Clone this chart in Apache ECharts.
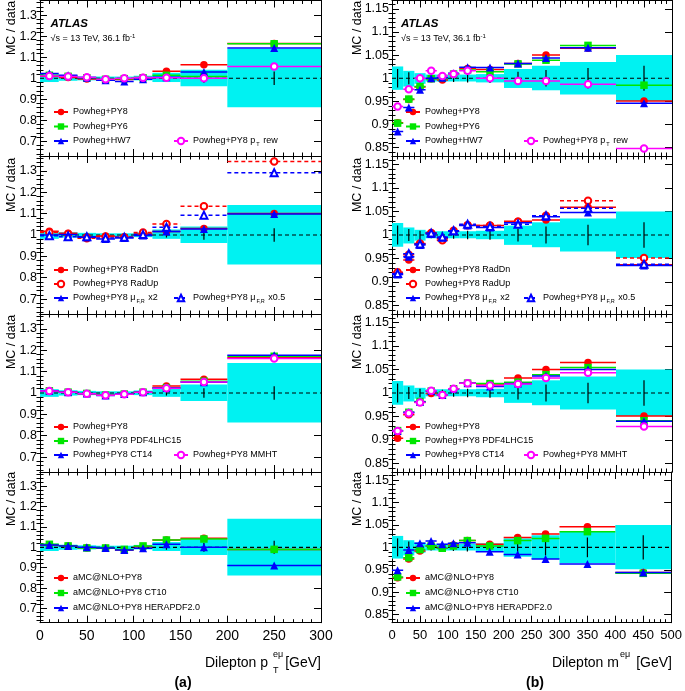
<!DOCTYPE html>
<html><head><meta charset="utf-8">
<script src="https://cdn.jsdelivr.net/npm/echarts@6/dist/echarts.min.js"></script>
<style>html,body{margin:0;padding:0;background:#fff}#c{width:685px;height:691px}</style>
</head><body><div id="c"></div>
<script>
// ---------------- data ----------------
const binsPt = [0, 20, 40, 60, 80, 100, 120, 150, 200, 300];
const centersPt = [10, 30, 50, 70, 90, 110, 135, 175, 250];
const binsM = [0, 20, 40, 60, 80, 100, 120, 150, 200, 250, 300, 400, 500];
const centersM = [10, 30, 50, 70, 90, 110, 135, 175, 225, 275, 350, 450];

// data uncertainty band (upper / lower edge) and data stat error
const ptBandHi = [1.018, 1.013, 1.010, 1.008, 1.008, 1.012, 1.026, 1.040, 1.140];
const ptBandLo = [0.982, 0.988, 0.990, 0.992, 0.992, 0.990, 0.982, 0.962, 0.862];
const ptDataErr = [0.008, 0.006, 0.005, 0.005, 0.005, 0.006, 0.012, 0.022, 0.032];
const mBandHi = [1.0255, 1.016, 1.011, 1.008, 1.008, 1.008, 1.008, 1.009, 1.020, 1.027, 1.035, 1.050];
const mBandLo = [0.975, 0.982, 0.988, 0.993, 0.993, 0.993, 0.993, 0.991, 0.979, 0.974, 0.965, 0.951];
const mDataErr = [0.020, 0.013, 0.009, 0.007, 0.007, 0.008, 0.009, 0.010, 0.014, 0.018, 0.022, 0.027];

// dilepton pT ratios
const pt_PY8 = [1.010, 1.004, 0.996, 0.990, 0.994, 1.004, 1.033, 1.064, 1.165];
const pt_PY6 = [1.014, 1.009, 1.002, 0.995, 0.998, 1.002, 1.014, 1.008, 1.164];
const pt_HW7 = [1.023, 1.014, 1.002, 0.990, 0.984, 0.995, 1.005, 1.030, 1.144];
const pt_PY8ptrew = [1.011, 1.008, 1.005, 0.995, 1.000, 1.002, 1.002, 1.000, 1.056];
const pt_RadDn = [1.017, 1.008, 0.992, 0.995, 0.989, 1.005, 1.016, 1.031, 1.101];
const pt_RadUp = [1.012, 1.005, 0.985, 0.992, 0.989, 1.012, 1.051, 1.135, 1.344];
const pt_muX2 = [1.000, 1.002, 0.989, 0.981, 0.986, 0.998, 1.016, 1.028, 1.098];
const pt_muX05 = [0.997, 0.992, 0.992, 0.986, 0.989, 1.002, 1.036, 1.093, 1.292];
const pt_PDF4LHC = [1.010, 1.004, 0.998, 0.990, 0.995, 1.004, 1.025, 1.055, 1.172];
const pt_CT14 = [1.010, 1.004, 0.998, 0.988, 0.995, 1.004, 1.024, 1.050, 1.177];
const pt_MMHT = [1.009, 1.004, 0.997, 0.989, 0.994, 1.003, 1.022, 1.052, 1.162];
const pt_aMC = [1.011, 1.007, 0.998, 0.995, 0.987, 1.003, 1.036, 1.045, 0.990];
const pt_aMC_CT10 = [1.015, 1.007, 0.997, 0.997, 0.990, 1.007, 1.036, 1.041, 0.990];
const pt_aMC_HERA = [1.011, 1.007, 1.000, 0.997, 0.987, 0.995, 1.015, 1.000, 0.911];

// dilepton mass ratios
const m_PY8 = [0.904, 0.954, 0.981, 0.999, 0.996, 1.009, 1.021, 1.019, 1.032, 1.050, 1.065, 0.951];
const m_PY6 = [0.903, 0.955, 0.982, 0.999, 1.001, 1.009, 1.018, 1.014, 1.031, 1.039, 1.071, 0.985];
const m_HW7 = [0.885, 0.937, 0.975, 1.000, 1.001, 1.011, 1.024, 1.023, 1.032, 1.044, 1.066, 0.946];
const m_PY8ptrew = [0.939, 0.976, 1.000, 1.016, 1.005, 1.009, 1.016, 1.000, 0.994, 0.994, 0.987, 0.848];
const m_RadDn = [0.918, 0.947, 0.981, 1.004, 0.992, 1.008, 1.021, 1.020, 1.029, 1.032, 1.059, 0.937];
const m_RadUp = [0.921, 0.958, 0.982, 1.004, 0.989, 1.009, 1.021, 1.020, 1.028, 1.041, 1.073, 0.951];
const m_muX2 = [0.916, 0.954, 0.979, 1.002, 0.994, 1.008, 1.020, 1.016, 1.026, 1.039, 1.048, 0.935];
const m_muX05 = [0.918, 0.960, 0.981, 1.004, 0.996, 1.009, 1.023, 1.018, 1.023, 1.041, 1.057, 0.938];
const m_PDF4LHC = [0.920, 0.959, 0.982, 1.004, 0.996, 1.009, 1.021, 1.020, 1.023, 1.039, 1.054, 0.941];
const m_CT14 = [0.919, 0.959, 0.981, 1.004, 0.996, 1.009, 1.021, 1.014, 1.020, 1.036, 1.050, 0.940];
const m_MMHT = [0.919, 0.957, 0.980, 1.005, 0.996, 1.009, 1.021, 1.016, 1.019, 1.032, 1.043, 0.929];
const m_aMC = [0.932, 0.974, 0.992, 1.003, 0.998, 1.005, 1.015, 1.007, 1.022, 1.030, 1.046, 0.944];
const m_aMC_CT10 = [0.934, 0.977, 0.995, 1.003, 0.998, 1.003, 1.015, 1.003, 1.015, 1.020, 1.035, 0.942];
const m_aMC_HERA = [0.949, 0.994, 1.009, 1.014, 1.007, 1.009, 1.010, 0.990, 0.984, 0.974, 0.963, 0.944];

// tick labels
const ptYTicks = [0.7, 0.8, 0.9, 1, 1.1, 1.2, 1.3];
const mYTicks = [0.85, 0.9, 0.95, 1, 1.05, 1.1, 1.15];

// ---------------- styling ----------------
const FONT = "'Liberation Sans', Arial, Helvetica, sans-serif";
const RED = '#ff0000', GREEN = '#00e600', BLUE = '#0000ff', MAG = '#ff00ff', CYAN = '#00f2f2';

function minorTicks(min, max, step, majors) {
  const out = [];
  const n0 = Math.ceil(min / step - 1e-9), n1 = Math.floor(max / step + 1e-9);
  for (let k = n0; k <= n1; k++) {
    const v = Math.round(k * step * 10000) / 10000;
    if (!majors.some(m => Math.abs(m - v) < 1e-6)) out.push(v);
  }
  return out;
}

const cols = [
  { left: 40, width: 281, bins: binsPt, centers: centersPt, xmax: 300, ymin: 0.63, ymax: 1.37,
    majors: ptYTicks, minors: minorTicks(0.63, 1.37, 0.02, ptYTicks),
    bandHi: ptBandHi, bandLo: ptBandLo, err: ptDataErr, xLabelSize: 14,
    series: [
      [ { n: 'Powheg+PY8', d: pt_PY8, c: RED, s: 'circle' },
        { n: 'Powheg+PY6', d: pt_PY6, c: GREEN, s: 'rect' },
        { n: 'Powheg+HW7', d: pt_HW7, c: BLUE, s: 'triangle' },
        { n: 'Powheg+PY8 p_T rew', d: pt_PY8ptrew, c: MAG, s: 'emptyCircle' } ],
      [ { n: 'Powheg+PY8 RadDn', d: pt_RadDn, c: RED, s: 'circle' },
        { n: 'Powheg+PY8 RadUp', d: pt_RadUp, c: RED, s: 'emptyCircle', dash: true },
        { n: 'Powheg+PY8 mu x2', d: pt_muX2, c: BLUE, s: 'triangle' },
        { n: 'Powheg+PY8 mu x0.5', d: pt_muX05, c: BLUE, s: 'emptyTriangle', dash: true } ],
      [ { n: 'Powheg+PY8', d: pt_PY8, c: RED, s: 'circle' },
        { n: 'Powheg+PY8 PDF4LHC15', d: pt_PDF4LHC, c: GREEN, s: 'rect' },
        { n: 'Powheg+PY8 CT14', d: pt_CT14, c: BLUE, s: 'triangle' },
        { n: 'Powheg+PY8 MMHT', d: pt_MMHT, c: MAG, s: 'emptyCircle' } ],
      [ { n: 'aMC@NLO+PY8', d: pt_aMC, c: RED, s: 'circle' },
        { n: 'aMC@NLO+PY8 CT10', d: pt_aMC_CT10, c: GREEN, s: 'rect' },
        { n: 'aMC@NLO+PY8 HERAPDF2.0', d: pt_aMC_HERA, c: BLUE, s: 'triangle' } ]
    ] },
  { left: 392, width: 280, bins: binsM, centers: centersM, xmax: 500, ymin: 0.832, ymax: 1.168,
    majors: mYTicks, minors: minorTicks(0.832, 1.168, 0.01, mYTicks),
    bandHi: mBandHi, bandLo: mBandLo, err: mDataErr, xLabelSize: 13,
    series: [
      [ { n: 'Powheg+PY8', d: m_PY8, c: RED, s: 'circle' },
        { n: 'Powheg+PY6', d: m_PY6, c: GREEN, s: 'rect' },
        { n: 'Powheg+HW7', d: m_HW7, c: BLUE, s: 'triangle' },
        { n: 'Powheg+PY8 p_T rew', d: m_PY8ptrew, c: MAG, s: 'emptyCircle' } ],
      [ { n: 'Powheg+PY8 RadDn', d: m_RadDn, c: RED, s: 'circle' },
        { n: 'Powheg+PY8 RadUp', d: m_RadUp, c: RED, s: 'emptyCircle', dash: true },
        { n: 'Powheg+PY8 mu x2', d: m_muX2, c: BLUE, s: 'triangle' },
        { n: 'Powheg+PY8 mu x0.5', d: m_muX05, c: BLUE, s: 'emptyTriangle', dash: true } ],
      [ { n: 'Powheg+PY8', d: m_PY8, c: RED, s: 'circle' },
        { n: 'Powheg+PY8 PDF4LHC15', d: m_PDF4LHC, c: GREEN, s: 'rect' },
        { n: 'Powheg+PY8 CT14', d: m_CT14, c: BLUE, s: 'triangle' },
        { n: 'Powheg+PY8 MMHT', d: m_MMHT, c: MAG, s: 'emptyCircle' } ],
      [ { n: 'aMC@NLO+PY8', d: m_aMC, c: RED, s: 'circle' },
        { n: 'aMC@NLO+PY8 CT10', d: m_aMC_CT10, c: GREEN, s: 'rect' },
        { n: 'aMC@NLO+PY8 HERAPDF2.0', d: m_aMC_HERA, c: BLUE, s: 'triangle' } ]
    ] }
];

const rowTop = [0.5, 156, 314, 472];
const rowH = [155.5, 158, 158, 150.7];
const legRows = [[112, 126.5, 141], [270, 284, 298], [427, 441, 455], [578, 593, 608]];

const grid = [], xAxis = [], yAxis = [], series = [], legend = [];

function segData(bins, centers, vals) {
  const d = [];
  for (let i = 0; i < vals.length; i++) {
    d.push({ value: [bins[i], vals[i]], symbol: 'none' });
    d.push({ value: [centers[i], vals[i]] });
    d.push({ value: [bins[i + 1], vals[i]], symbol: 'none' });
    d.push([bins[i + 1], '-']);
  }
  return d;
}

function symSize(s) {
  if (s === 'emptyCircle') return 6.5;
  if (s === 'emptyTriangle') return 7;
  if (s === 'triangle') return 8;
  return 7.5;
}

const legendName = {
  'Powheg+PY8 p_T rew': '{a|Powheg+PY8 p}{s|T}{a| rew}',
  'Powheg+PY8 mu x2': '{a|Powheg+PY8 μ}{s|F,R}{a| x2}',
  'Powheg+PY8 mu x0.5': '{a|Powheg+PY8 μ}{s|F,R}{a| x0.5}'
};

cols.forEach((col, ci) => {
  for (let r = 0; r < 4; r++) {
    const g = ci * 4 + r;
    grid.push({ left: col.left, top: rowTop[r], width: col.width, height: rowH[r], containLabel: false });
    const xBase = {
      gridIndex: g, type: 'value', min: 0, max: col.xmax, interval: 50,
      axisLine: { show: true, onZero: false, lineStyle: { color: '#000', width: 1 } },
      axisTick: { show: true, inside: true, length: 7, lineStyle: { color: '#000', width: 1 } },
      minorTick: { show: true, splitNumber: 5, length: 3.5, lineStyle: { color: '#000', width: 1 } },
      splitLine: { show: false }, minorSplitLine: { show: false }
    };
    xAxis.push(Object.assign({}, xBase, { position: 'bottom',
      axisLabel: { show: r === 3, color: '#000', fontSize: col.xLabelSize, fontFamily: FONT, margin: 6,
        showMinLabel: true, showMaxLabel: true } }));
    xAxis.push(Object.assign({}, xBase, { position: 'top', axisLabel: { show: false } }));
    const yBase = { gridIndex: g, type: 'value', min: col.ymin, max: col.ymax,
      splitLine: { show: false } };
    yAxis.push(Object.assign({}, yBase, { position: 'left',
      axisLine: { show: true, onZero: false, lineStyle: { color: '#000', width: 1 } },
      axisTick: { show: true, inside: true, length: 7, customValues: col.majors, lineStyle: { color: '#000' } },
      axisLabel: { show: true, customValues: col.majors, color: '#000', fontSize: 12.5, fontFamily: FONT, margin: 3 } }));
    yAxis.push(Object.assign({}, yBase, { position: 'left', axisLine: { show: false },
      axisTick: { show: true, inside: true, length: 3.5, customValues: col.minors, lineStyle: { color: '#000' } },
      axisLabel: { show: false } }));
    yAxis.push(Object.assign({}, yBase, { position: 'right',
      axisLine: { show: true, onZero: false, lineStyle: { color: '#000', width: 1 } },
      axisTick: { show: true, inside: true, length: 7, customValues: col.majors, lineStyle: { color: '#000' } },
      axisLabel: { show: false } }));
    yAxis.push(Object.assign({}, yBase, { position: 'right', axisLine: { show: false },
      axisTick: { show: true, inside: true, length: 3.5, customValues: col.minors, lineStyle: { color: '#000' } },
      axisLabel: { show: false } }));

    const xi = 2 * g, yi = 4 * g;
    // data uncertainty band
    series.push({
      type: 'custom', xAxisIndex: xi, yAxisIndex: yi, silent: true, z: 1,
      encode: { x: [0, 1], y: [2, 3] },
      data: col.bandHi.map((h, i) => [col.bins[i], col.bins[i + 1], col.bandLo[i], h]),
      renderItem: (params, api) => {
        const p0 = api.coord([api.value(0), api.value(3)]);
        const p1 = api.coord([api.value(1), api.value(2)]);
        return { type: 'rect', shape: { x: p0[0], y: p0[1], width: p1[0] - p0[0], height: p1[1] - p0[1] },
          style: { fill: CYAN } };
      }
    });
    // reference line at 1
    series.push({
      type: 'line', xAxisIndex: xi, yAxisIndex: yi, silent: true, z: 2, symbol: 'none',
      data: [[0, 1], [col.xmax, 1]],
      lineStyle: { color: '#000', width: 1.2, type: [4, 3] }
    });
    // data error bars
    series.push({
      type: 'custom', xAxisIndex: xi, yAxisIndex: yi, silent: true, z: 3,
      encode: { x: 0, y: [1, 2] },
      data: col.err.map((e, i) => [col.centers[i], 1 - e, 1 + e]),
      renderItem: (params, api) => {
        const a = api.coord([api.value(0), api.value(1)]);
        const b = api.coord([api.value(0), api.value(2)]);
        return { type: 'line', shape: { x1: a[0], y1: a[1], x2: b[0], y2: b[1] },
          style: { stroke: '#000', lineWidth: 1.2 } };
      }
    });
    // MC predictions
    const ss = col.series[r];
    ss.forEach((s, k) => {
      series.push({
        type: 'line', name: s.n, xAxisIndex: xi, yAxisIndex: yi, z: 10 + k,
        data: segData(col.bins, col.centers, s.d), connectNulls: false,
        symbol: s.s, symbolSize: symSize(s.s), showSymbol: true,
        lineStyle: { color: s.c, width: 1.5, type: s.dash ? [4, 3] : 'solid' },
        itemStyle: { color: s.c, borderWidth: 1.2 }
      });
    });
    const legBase = {
      orient: 'vertical', selectedMode: false, padding: 0, itemWidth: 14, itemHeight: 8, itemGap: 0,
      textStyle: { fontFamily: FONT, fontSize: 9, color: '#000', padding: [0, 0, 0, 0],
        rich: { a: { fontFamily: FONT, fontSize: 9, color: '#000' },
                s: { fontFamily: FONT, fontSize: 5.5, color: '#000', padding: [6, 1, 0, 1] } } },
      formatter: name => legendName[name] || name
    };
    const rows = legRows[r];
    const firstN = ss.slice(0, 3).map(s => s.n);
    legend.push(Object.assign({}, legBase, {
      left: col.left + 13, top: rows[0] - 7, itemGap: rows[1] - rows[0] - 14,
      data: firstN, textStyle: Object.assign({}, legBase.textStyle, { lineHeight: 14 })
    }));
    if (ss.length > 3) {
      legend.push(Object.assign({}, legBase, {
        left: col.left + (ci === 0 ? 133 : 131), top: rows[2] - 7,
        data: [ss[3].n], textStyle: Object.assign({}, legBase.textStyle, { lineHeight: 14 })
      }));
    }
  }
});

// texts: ATLAS labels, axis titles, sub-figure labels
const graphic = [];
[{ x: 50.5 }, { x: 401 }].forEach(p => {
  graphic.push({ type: 'text', x: p.x, y: 24, style: { text: 'ATLAS', font: `italic bold 11.5px ${FONT}`, fill: '#000', textVerticalAlign: 'middle' } });
  graphic.push({ type: 'text', x: p.x, y: 39, style: {
    text: '{a|√s = 13 TeV, 36.1 fb}{b|-1}',
    rich: { a: { font: `9px ${FONT}`, fill: '#000' }, b: { font: `6px ${FONT}`, fill: '#000', padding: [0, 0, 5, 0] } },
    textVerticalAlign: 'middle' } });
});
const yTitleCenters = [28, 185, 342, 499];
[12, 358].forEach(x => {
  yTitleCenters.forEach(y => {
    graphic.push({ type: 'text', x: x, y: y, rotation: Math.PI / 2, style: {
      text: 'MC / data', font: `12.5px ${FONT}`, fill: '#000', textAlign: 'center', textVerticalAlign: 'middle' } });
  });
});
// x axis titles
graphic.push({ type: 'text', x: 205, y: 663, style: { text: 'Dilepton p', font: `14px ${FONT}`, fill: '#000', textVerticalAlign: 'middle' } });
graphic.push({ type: 'text', x: 273, y: 655, style: { text: 'eμ', font: `9px ${FONT}`, fill: '#000', textVerticalAlign: 'middle' } });
graphic.push({ type: 'text', x: 273, y: 671, style: { text: 'T', font: `9px ${FONT}`, fill: '#000', textVerticalAlign: 'middle' } });
graphic.push({ type: 'text', x: 321, y: 663, style: { text: '[GeV]', font: `14px ${FONT}`, fill: '#000', textAlign: 'right', textVerticalAlign: 'middle' } });
graphic.push({ type: 'text', x: 552, y: 663, style: { text: 'Dilepton m', font: `14px ${FONT}`, fill: '#000', textVerticalAlign: 'middle' } });
graphic.push({ type: 'text', x: 620, y: 655, style: { text: 'eμ', font: `9px ${FONT}`, fill: '#000', textVerticalAlign: 'middle' } });
graphic.push({ type: 'text', x: 672, y: 663, style: { text: '[GeV]', font: `14px ${FONT}`, fill: '#000', textAlign: 'right', textVerticalAlign: 'middle' } });
graphic.push({ type: 'text', x: 183, y: 683, style: { text: '(a)', font: `bold 14px ${FONT}`, fill: '#000', textAlign: 'center', textVerticalAlign: 'middle' } });
graphic.push({ type: 'text', x: 535, y: 683, style: { text: '(b)', font: `bold 14px ${FONT}`, fill: '#000', textAlign: 'center', textVerticalAlign: 'middle' } });

const chart = echarts.init(document.getElementById('c'), null, { renderer: 'canvas' });
chart.setOption({
  animation: false, backgroundColor: '#fff',
  grid, xAxis, yAxis, series, legend, graphic
});
</script></body></html>
